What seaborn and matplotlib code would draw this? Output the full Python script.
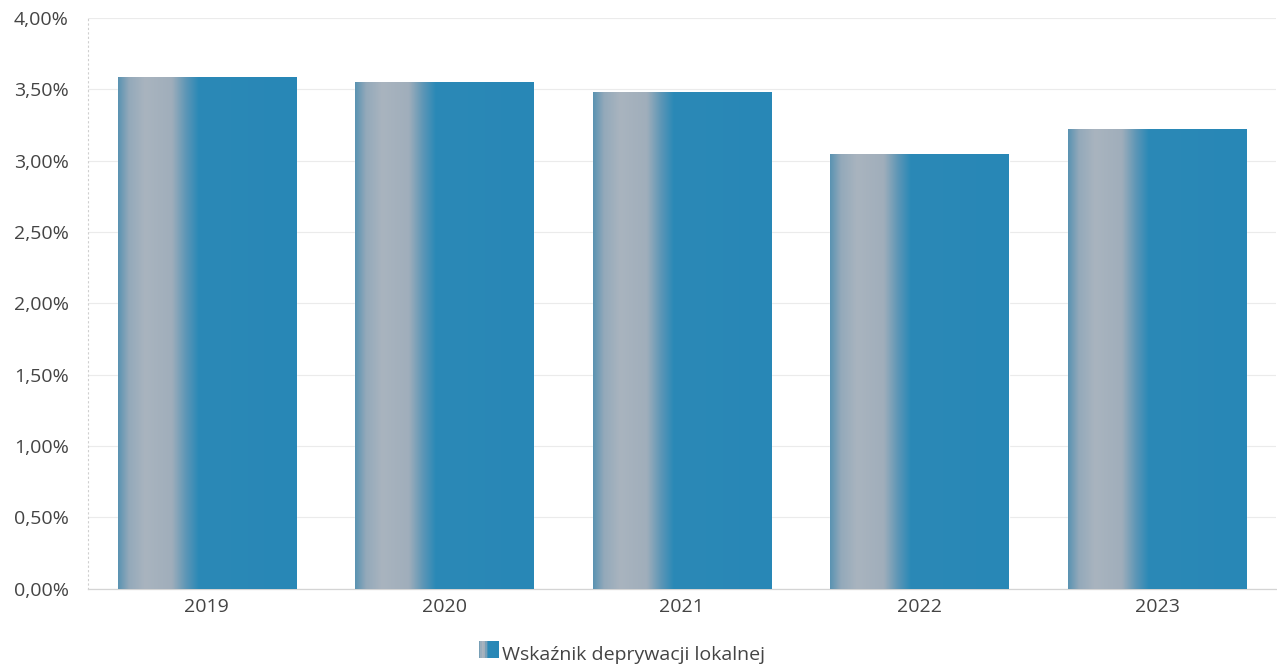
import numpy as np
import pandas as pd
import seaborn as sns
import matplotlib.pyplot as plt
from matplotlib.colors import LinearSegmentedColormap
from matplotlib.patches import Rectangle
from matplotlib.legend_handler import HandlerBase
from matplotlib.ticker import FuncFormatter, MultipleLocator

years = ["2019", "2020", "2021", "2022", "2023"]
values = [3.59, 3.55, 3.48, 3.05, 3.22]
series_name = "Wskaźnik deprywacji lokalnej"

sns.set_style("white")
plt.rcParams["font.family"] = ["Open Sans", "DejaVu Sans"]

# bar fill: thin blue edge, gray band, then blue
grad_cmap = LinearSegmentedColormap.from_list("bar", [
    (0.00, "#5a93b2"), (0.06, "#93a9ba"), (0.15, "#a9b4bf"),
    (0.30, "#a0aebb"), (0.38, "#5d96b6"), (0.45, "#2b89b7"),
    (1.00, "#2887b6")])
grad = np.linspace(0, 1, 256).reshape(1, -1)

df = pd.DataFrame({"year": years, "value": values})

fig = plt.figure(figsize=(12.77, 6.69), dpi=100)
ax = fig.add_axes([0.069, 0.12, 0.930, 0.853])
sns.barplot(data=df, x="year", y="value", color="#2a86b4", width=0.75,
            saturation=1, ax=ax, zorder=2)

for p in ax.patches:
    x0, w, h = p.get_x(), p.get_width(), p.get_height()
    im = ax.imshow(grad, extent=[x0, x0 + w, 0, h], aspect="auto",
                   cmap=grad_cmap, zorder=3, interpolation="bilinear")
    im.set_clip_path(p)

ax.set_xlim(-0.5, 4.5)
ax.set_ylim(0, 4.0)
ax.yaxis.set_major_locator(MultipleLocator(0.5))
ax.yaxis.set_major_formatter(FuncFormatter(lambda v, _: f"{v:.2f}%".replace(".", ",")))
ax.grid(axis="y", color="#ebebeb", linewidth=0.8, zorder=0)
ax.set_axisbelow(True)
ax.set_xlabel("")
ax.set_ylabel("")
ax.tick_params(axis="both", length=0, labelsize=14, labelcolor="#444444")
ax.tick_params(axis="x", pad=7)
ax.tick_params(axis="y", pad=14)

for s in ["top", "right"]:
    ax.spines[s].set_visible(False)
ax.spines["left"].set_color("#cfcfcf")
ax.spines["left"].set_linestyle((0, (1, 3)))
ax.spines["left"].set_linewidth(0.8)
ax.spines["bottom"].set_color("#d4d4d4")
ax.spines["bottom"].set_linewidth(0.9)


class GradHandler(HandlerBase):
    def create_artists(self, legend, orig, xd, yd, width, height, fontsize, trans):
        n = 16
        arts = []
        for i in range(n):
            c = grad_cmap((i + 0.5) / n)
            arts.append(Rectangle((xd + i * width / n, yd), width / n + 0.3, height,
                                  facecolor=c, edgecolor="none", transform=trans))
        return arts


handle = Rectangle((0, 0), 1, 1)
fig.legend([handle], [series_name], handler_map={Rectangle: GradHandler()},
           loc="center", bbox_to_anchor=(0.487, 0.022), frameon=False,
           fontsize=14, handlelength=1.0, handleheight=1.0, handletextpad=0.15,
           labelcolor="#444444")

fig.savefig("out.png", dpi=100)
